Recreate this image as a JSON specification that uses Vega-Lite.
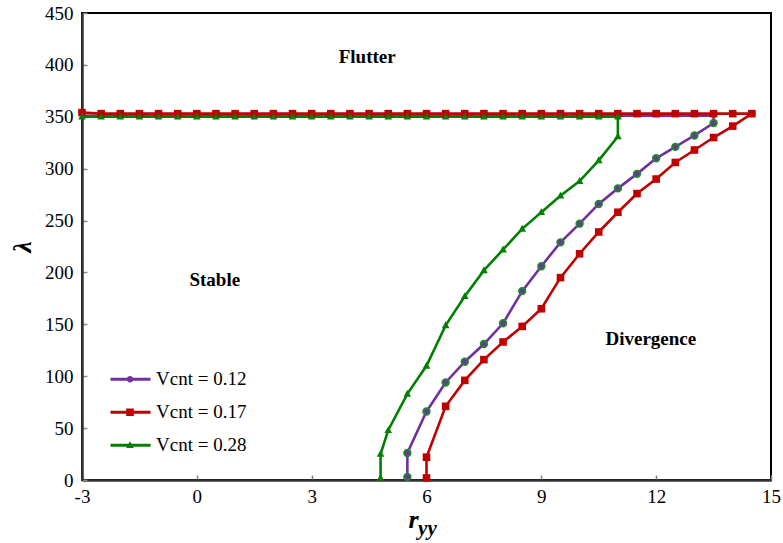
{
  "$schema": "https://vega.github.io/schema/vega-lite/v6.json",
  "width": 689,
  "height": 467,
  "autosize": {"type": "none"},
  "padding": {"left": 82, "top": 13, "right": 12, "bottom": 63},
  "background": "white",
  "config": {"view": {"stroke": "#000", "strokeWidth": 2}, "font": "Liberation Serif"},
  "data": {"values": [
    {"x": 5.5, "y": 3, "s": "Vcnt = 0.12"}, {"x": 5.5, "y": 26, "s": "Vcnt = 0.12"}, {"x": 6, "y": 66, "s": "Vcnt = 0.12"},
    {"x": 6.5, "y": 94, "s": "Vcnt = 0.12"}, {"x": 7, "y": 114, "s": "Vcnt = 0.12"}, {"x": 7.5, "y": 131, "s": "Vcnt = 0.12"},
    {"x": 8, "y": 151, "s": "Vcnt = 0.12"}, {"x": 8.5, "y": 182, "s": "Vcnt = 0.12"}, {"x": 9, "y": 206, "s": "Vcnt = 0.12"},
    {"x": 9.5, "y": 229, "s": "Vcnt = 0.12"}, {"x": 10, "y": 247, "s": "Vcnt = 0.12"}, {"x": 10.5, "y": 266, "s": "Vcnt = 0.12"},
    {"x": 11, "y": 281, "s": "Vcnt = 0.12"}, {"x": 11.5, "y": 295, "s": "Vcnt = 0.12"}, {"x": 12, "y": 310, "s": "Vcnt = 0.12"},
    {"x": 12.5, "y": 321, "s": "Vcnt = 0.12"}, {"x": 13, "y": 332, "s": "Vcnt = 0.12"}, {"x": 13.5, "y": 344, "s": "Vcnt = 0.12"},
    {"x": 13.5, "y": 351, "s": "Vcnt = 0.12"}, {"x": -3, "y": 351, "s": "Vcnt = 0.12"},

    {"x": 6, "y": 2, "s": "Vcnt = 0.17"}, {"x": 6, "y": 22, "s": "Vcnt = 0.17"}, {"x": 6.5, "y": 71, "s": "Vcnt = 0.17"},
    {"x": 7, "y": 96, "s": "Vcnt = 0.17"}, {"x": 7.5, "y": 116, "s": "Vcnt = 0.17"}, {"x": 8, "y": 133, "s": "Vcnt = 0.17"},
    {"x": 8.5, "y": 148, "s": "Vcnt = 0.17"}, {"x": 9, "y": 165, "s": "Vcnt = 0.17"}, {"x": 9.5, "y": 195, "s": "Vcnt = 0.17"},
    {"x": 10, "y": 218, "s": "Vcnt = 0.17"}, {"x": 10.5, "y": 239, "s": "Vcnt = 0.17"}, {"x": 11, "y": 258, "s": "Vcnt = 0.17"},
    {"x": 11.5, "y": 276, "s": "Vcnt = 0.17"}, {"x": 12, "y": 290, "s": "Vcnt = 0.17"}, {"x": 12.5, "y": 306, "s": "Vcnt = 0.17"},
    {"x": 13, "y": 318, "s": "Vcnt = 0.17"}, {"x": 13.5, "y": 330, "s": "Vcnt = 0.17"}, {"x": 14, "y": 341, "s": "Vcnt = 0.17"},
    {"x": 14.5, "y": 353, "s": "Vcnt = 0.17"}, {"x": 14, "y": 353, "s": "Vcnt = 0.17"}, {"x": 13.5, "y": 353, "s": "Vcnt = 0.17"},
    {"x": 13, "y": 353, "s": "Vcnt = 0.17"}, {"x": 12.5, "y": 353, "s": "Vcnt = 0.17"}, {"x": 12, "y": 353, "s": "Vcnt = 0.17"},
    {"x": 11.5, "y": 353, "s": "Vcnt = 0.17"}, {"x": 11, "y": 353, "s": "Vcnt = 0.17"}, {"x": 10.5, "y": 353, "s": "Vcnt = 0.17"},
    {"x": 10, "y": 353, "s": "Vcnt = 0.17"}, {"x": 9.5, "y": 353, "s": "Vcnt = 0.17"}, {"x": 9, "y": 353, "s": "Vcnt = 0.17"},
    {"x": 8.5, "y": 353, "s": "Vcnt = 0.17"}, {"x": 8, "y": 353, "s": "Vcnt = 0.17"}, {"x": 7.5, "y": 353, "s": "Vcnt = 0.17"},
    {"x": 7, "y": 353, "s": "Vcnt = 0.17"}, {"x": 6.5, "y": 353, "s": "Vcnt = 0.17"}, {"x": 6, "y": 353, "s": "Vcnt = 0.17"},
    {"x": 5.5, "y": 353, "s": "Vcnt = 0.17"}, {"x": 5, "y": 353, "s": "Vcnt = 0.17"}, {"x": 4.5, "y": 353, "s": "Vcnt = 0.17"},
    {"x": 4, "y": 353, "s": "Vcnt = 0.17"}, {"x": 3.5, "y": 353, "s": "Vcnt = 0.17"}, {"x": 3, "y": 353, "s": "Vcnt = 0.17"},
    {"x": 2.5, "y": 353, "s": "Vcnt = 0.17"}, {"x": 2, "y": 353, "s": "Vcnt = 0.17"}, {"x": 1.5, "y": 353, "s": "Vcnt = 0.17"},
    {"x": 1, "y": 353, "s": "Vcnt = 0.17"}, {"x": 0.5, "y": 353, "s": "Vcnt = 0.17"}, {"x": 0, "y": 353, "s": "Vcnt = 0.17"},
    {"x": -0.5, "y": 353, "s": "Vcnt = 0.17"}, {"x": -1, "y": 353, "s": "Vcnt = 0.17"}, {"x": -1.5, "y": 353, "s": "Vcnt = 0.17"},
    {"x": -2, "y": 353, "s": "Vcnt = 0.17"}, {"x": -2.5, "y": 353, "s": "Vcnt = 0.17"}, {"x": -3, "y": 354, "s": "Vcnt = 0.17"},

    {"x": 4.8, "y": 2, "s": "Vcnt = 0.28"}, {"x": 4.8, "y": 25, "s": "Vcnt = 0.28"}, {"x": 5, "y": 48, "s": "Vcnt = 0.28"},
    {"x": 5.5, "y": 83, "s": "Vcnt = 0.28"}, {"x": 6, "y": 110, "s": "Vcnt = 0.28"}, {"x": 6.5, "y": 149, "s": "Vcnt = 0.28"},
    {"x": 7, "y": 177, "s": "Vcnt = 0.28"}, {"x": 7.5, "y": 202, "s": "Vcnt = 0.28"}, {"x": 8, "y": 222, "s": "Vcnt = 0.28"},
    {"x": 8.5, "y": 242, "s": "Vcnt = 0.28"}, {"x": 9, "y": 258, "s": "Vcnt = 0.28"}, {"x": 9.5, "y": 274, "s": "Vcnt = 0.28"},
    {"x": 10, "y": 288, "s": "Vcnt = 0.28"}, {"x": 10.5, "y": 308, "s": "Vcnt = 0.28"}, {"x": 11, "y": 331, "s": "Vcnt = 0.28"},
    {"x": 11, "y": 350, "s": "Vcnt = 0.28"}, {"x": 10.5, "y": 350, "s": "Vcnt = 0.28"}, {"x": 10, "y": 350, "s": "Vcnt = 0.28"},
    {"x": 9.5, "y": 350, "s": "Vcnt = 0.28"}, {"x": 9, "y": 350, "s": "Vcnt = 0.28"}, {"x": 8.5, "y": 350, "s": "Vcnt = 0.28"},
    {"x": 8, "y": 350, "s": "Vcnt = 0.28"}, {"x": 7.5, "y": 350, "s": "Vcnt = 0.28"}, {"x": 7, "y": 350, "s": "Vcnt = 0.28"},
    {"x": 6.5, "y": 350, "s": "Vcnt = 0.28"}, {"x": 6, "y": 350, "s": "Vcnt = 0.28"}, {"x": 5.5, "y": 350, "s": "Vcnt = 0.28"},
    {"x": 5, "y": 350, "s": "Vcnt = 0.28"}, {"x": 4.5, "y": 350, "s": "Vcnt = 0.28"}, {"x": 4, "y": 350, "s": "Vcnt = 0.28"},
    {"x": 3.5, "y": 350, "s": "Vcnt = 0.28"}, {"x": 3, "y": 350, "s": "Vcnt = 0.28"}, {"x": 2.5, "y": 350, "s": "Vcnt = 0.28"},
    {"x": 2, "y": 350, "s": "Vcnt = 0.28"}, {"x": 1.5, "y": 350, "s": "Vcnt = 0.28"}, {"x": 1, "y": 350, "s": "Vcnt = 0.28"},
    {"x": 0.5, "y": 350, "s": "Vcnt = 0.28"}, {"x": 0, "y": 350, "s": "Vcnt = 0.28"}, {"x": -0.5, "y": 350, "s": "Vcnt = 0.28"},
    {"x": -1, "y": 350, "s": "Vcnt = 0.28"}, {"x": -1.5, "y": 350, "s": "Vcnt = 0.28"}, {"x": -2, "y": 350, "s": "Vcnt = 0.28"},
    {"x": -2.5, "y": 350, "s": "Vcnt = 0.28"}, {"x": -3, "y": 350, "s": "Vcnt = 0.28"}
  ]},
  "layer": [
    {
      "mark": {"type": "line", "strokeWidth": 2.6, "clip": true},
      "encoding": {
        "x": {"field": "x", "type": "quantitative",
          "scale": {"domain": [-3, 15], "nice": false, "zero": false},
          "axis": {"values": [-3, 0, 3, 6, 9, 12, 15], "grid": false, "tickSize": -5, "tickColor": "#888", "tickWidth": 1.5,
            "labelExpr": "'' + datum.value",
            "domainColor": "#333", "domainWidth": 2.5, "labelFont": "Liberation Serif", "labelFontSize": 19, "labelColor": "#000",
            "labelPadding": 12, "labelFlush": false, "title": "r", "titleFont": "Liberation Serif", "titleFontSize": 26,
            "titleFontWeight": "bold", "titleFontStyle": "italic", "titleColor": "#000", "titleX": 331, "titlePadding": 0}},
        "y": {"field": "y", "type": "quantitative",
          "scale": {"domain": [0, 450], "nice": false, "zero": false},
          "axis": {"values": [0, 50, 100, 150, 200, 250, 300, 350, 400, 450], "grid": false, "tickSize": -5, "tickColor": "#888", "tickWidth": 1.5,
            "domainColor": "#333", "domainWidth": 2.5, "labelFont": "Liberation Serif", "labelFontSize": 19, "labelColor": "#000",
            "labelPadding": 14, "labelFlush": false, "title": "λ", "titleFont": "Liberation Serif", "titleFontSize": 26,
            "titleFontWeight": "bold", "titleFontStyle": "italic", "titleColor": "#000", "titlePadding": 9}},
        "stroke": {"field": "s", "type": "nominal",
          "scale": {"range": ["#7030A0", "#C00000", "#008000"]},
          "legend": {"title": null, "orient": "none", "legendX": 27, "legendY": 350, "symbolType": "stroke", "symbolSize": 1600,
            "symbolStrokeWidth": 3, "labelFont": "Liberation Serif", "labelFontSize": 19, "labelColor": "#000", "labelOffset": 4,
            "clipHeight": 32.5, "padding": 0, "rowPadding": 0}},
        "order": {"value": null}
      }
    },
    {
      "transform": [{"filter": "!(datum.s === 'Vcnt = 0.12' && datum.y >= 350)"}],
      "mark": {"type": "point", "filled": true, "opacity": 1, "size": 1600, "strokeWidth": 1.8},
      "encoding": {
        "x": {"field": "x", "type": "quantitative"},
        "y": {"field": "y", "type": "quantitative"},
        "fill": {"field": "s", "type": "nominal",
          "scale": {"domain": ["Vcnt = 0.12", "Vcnt = 0.17", "Vcnt = 0.28"], "range": ["#7030A0", "#C00000", "#008000"]},
          "legend": {"title": null, "orient": "none", "legendX": 27, "legendY": 350, "symbolSize": 1600, "symbolStrokeWidth": 1.8,
            "labelFont": "Liberation Serif", "labelFontSize": 19, "labelColor": "transparent", "labelOffset": 4,
            "clipHeight": 32.5, "padding": 0, "rowPadding": 0,
            "encode": {"symbols": {"update": {"stroke": [{"test": "datum.value === 'Vcnt = 0.12'", "value": "#1f8a2a"}, {"value": "transparent"}], "strokeWidth": {"value": 1.8}}}}}},
        "shape": {"field": "s", "type": "nominal",
          "scale": {"domain": ["Vcnt = 0.12", "Vcnt = 0.17", "Vcnt = 0.28"],
            "range": ["M0.165,0A0.165,0.165,0,1,1,-0.165,0A0.165,0.165,0,1,1,0.165,0Z", "M-0.19,-0.19H0.19V0.19H-0.19Z", "M0,-0.2L0.19,0.14H-0.19Z"]},
          "legend": {"title": null, "orient": "none", "legendX": 27, "legendY": 350, "symbolSize": 1600,
            "labelFont": "Liberation Serif", "labelFontSize": 19, "labelColor": "transparent", "labelOffset": 4,
            "clipHeight": 32.5, "padding": 0, "rowPadding": 0}},
        "stroke": {"condition": {"test": "datum.s === 'Vcnt = 0.12'", "value": "#1f8a2a"}, "value": "transparent"}
      }
    },
    {
      "data": {"values": [{}]},
      "mark": {"type": "text", "font": "Liberation Serif", "fontWeight": "bold", "fontSize": 19, "align": "center", "baseline": "middle", "color": "#000"},
      "encoding": {"x": {"datum": 4.45, "type": "quantitative"}, "y": {"datum": 408, "type": "quantitative"}, "text": {"value": "Flutter"}}
    },
    {
      "data": {"values": [{}]},
      "mark": {"type": "text", "font": "Liberation Serif", "fontWeight": "bold", "fontSize": 19, "align": "center", "baseline": "middle", "color": "#000"},
      "encoding": {"x": {"datum": 0.47, "type": "quantitative"}, "y": {"datum": 193, "type": "quantitative"}, "text": {"value": "Stable"}}
    },
    {
      "data": {"values": [{}]},
      "mark": {"type": "text", "font": "Liberation Serif", "fontWeight": "bold", "fontSize": 19, "align": "center", "baseline": "middle", "color": "#000"},
      "encoding": {"x": {"datum": 11.86, "type": "quantitative"}, "y": {"datum": 136, "type": "quantitative"}, "text": {"value": "Divergence"}}
    },
    {
      "data": {"values": [{}]},
      "mark": {"type": "text", "font": "Liberation Serif", "fontWeight": "bold", "fontStyle": "italic", "fontSize": 21, "align": "left", "baseline": "middle", "color": "#000"},
      "encoding": {"x": {"datum": 5.78, "type": "quantitative"}, "y": {"datum": -47, "type": "quantitative"}, "text": {"value": "yy"}}
    }
  ]
}
